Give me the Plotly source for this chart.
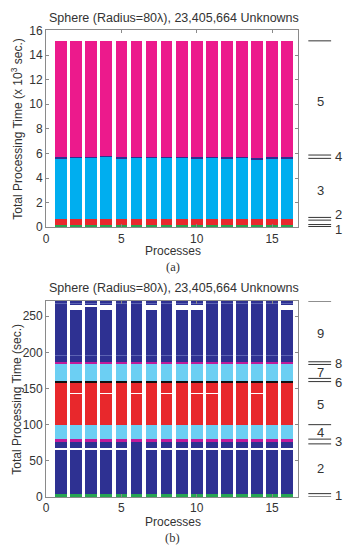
import plotly.graph_objects as go

processes = list(range(1, 17))

# ---------- (a) stage durations, x 10^3 sec ----------
a_stage1 = [0.2, 0.2, 0.2, 0.2, 0.2, 0.2, 0.2, 0.2, 0.2, 0.2, 0.2, 0.2, 0.2, 0.2, 0.2, 0.2]
a_stage2 = [0.45, 0.45, 0.45, 0.45, 0.45, 0.45, 0.45, 0.45, 0.45, 0.45, 0.45, 0.45, 0.45, 0.45, 0.45, 0.45]
a_stage3 = [4.9, 4.95, 4.95, 5.05, 4.9, 4.95, 4.95, 5.0, 4.95, 4.9, 4.95, 4.9, 4.95, 4.8, 4.9, 4.9]
a_stage4 = [0.15, 0.12, 0.12, 0.12, 0.15, 0.12, 0.1, 0.1, 0.1, 0.15, 0.12, 0.15, 0.12, 0.2, 0.15, 0.15]
a_stage5 = [9.4, 9.38, 9.38, 9.28, 9.4, 9.38, 9.4, 9.35, 9.4, 9.4, 9.38, 9.4, 9.38, 9.45, 9.4, 9.4]

# ---------- (b) stage durations, sec ----------
b_s1 = [4, 4, 4, 4, 4, 4, 4, 4, 4, 4, 4, 4, 4, 4, 4, 4]
b_s2a = [62, 62, 62, 62, 62, 62, 62, 62, 62, 62, 62, 62, 62, 62, 62, 62]
b_s2gap = [1.5, 1.5, 1.5, 1.5, 1.5, 0, 1.5, 1.5, 1.5, 1.5, 1.5, 1.5, 1.5, 1.5, 1.5, 1.5]
b_s2b = [8, 8, 8, 8, 8, 9.5, 8, 8, 8, 8, 8, 8, 8, 8, 8, 8]
b_s3 = [4, 4, 4, 4, 4, 4, 4, 4, 4, 4, 4, 4, 4, 4, 4, 4]
b_s4 = [20, 20, 20, 20, 20, 20, 20, 20, 20, 20, 20, 20, 20, 20, 20, 20]
b_s5a = [57.5, 43, 57.5, 43, 57.5, 43, 57.5, 43, 57.5, 43, 43, 57.5, 57.5, 43, 57.5, 57.5]
b_s5gap = [0, 1.5, 0, 1.5, 0, 1.5, 0, 1.5, 0, 1.5, 1.5, 0, 0, 1.5, 0, 0]
b_s5b = [0, 13, 0, 13, 0, 13, 0, 13, 0, 13, 13, 0, 0, 13, 0, 0]
b_s6 = [3.5, 3.5, 3.5, 3.5, 3.5, 3.5, 3.5, 3.5, 3.5, 3.5, 3.5, 3.5, 3.5, 3.5, 3.5, 3.5]
b_s7 = [23, 23, 23, 23, 23, 23, 23, 23, 23, 23, 23, 23, 23, 23, 23, 23]
b_s8 = [3.5, 3.5, 3.5, 3.5, 3.5, 3.5, 3.5, 3.5, 3.5, 3.5, 3.5, 3.5, 3.5, 3.5, 3.5, 3.5]
b_s9a = [8, 8, 8, 8, 8, 8, 8, 8, 8, 8, 8, 8, 8, 8, 8, 8]
b_s9line = [1, 1, 1, 1, 1, 1, 1, 1, 1, 1, 1, 1, 1, 1, 1, 1]
b_s9b = [70, 62, 68, 62, 70, 70, 62, 70, 62, 62, 70, 70, 70, 70, 70, 62]
b_s9gap = [0, 8, 2, 8, 0, 0, 8, 0, 8, 8, 0, 0, 0, 0, 0, 8]
b_s10a = [1.5, 1.5, 1.5, 1.5, 1.5, 1.5, 1.5, 1.5, 1.5, 1.5, 1.5, 1.5, 1.5, 1.5, 1.5, 1.5]
b_s10line = [1, 1, 1, 1, 1, 1, 1, 1, 1, 1, 1, 1, 1, 1, 1, 1]
b_s10b = [1.5, 1.5, 1.5, 1.5, 1.5, 1.5, 1.5, 1.5, 1.5, 1.5, 1.5, 1.5, 1.5, 1.5, 1.5, 1.5]

# right-side stage marker levels and labels
top_lines = [15.15, 5.87, 5.6, 0.8, 0.58, 0.22, 0.06, -0.1]
top_labels = [("5", 10.2), ("4", 5.75), ("3", 3.0), ("2", 1.0), ("1", -0.2)]
bot_lines = [271, 187, 183.3, 164, 159.6, 100, 80, 73.4, 4.6, 0]
bot_labels = [("9", 226), ("8", 185), ("7", 172), ("6", 159),
              ("5", 128), ("4", 89), ("3", 77), ("2", 39), ("1", 2)]

GREEN = "#27a552"
RED = "#e8282c"
CYAN_A = "#00aeef"
CYAN_B = "#6ccff3"
NAVY = "#2e3192"
NAVY_L = "#5c63b3"
MAGENTA = "#ec1a8c"
MAGENTA_B = "#c21a9a"
BLACK = "#111111"
WHITE = "#ffffff"

FONT = "Liberation Sans, Arial, Helvetica, sans-serif"
TXT = "#333333"
BW = 0.78

fig = go.Figure()

top_series = [(a_stage1, GREEN), (a_stage2, RED), (a_stage3, CYAN_A),
              (a_stage4, NAVY), (a_stage5, MAGENTA)]
for vals, col in top_series:
    fig.add_trace(go.Bar(x=processes, y=vals, width=BW, marker=dict(color=col, line=dict(width=0)),
                         xaxis="x", yaxis="y", showlegend=False))

bot_series = [(b_s1, GREEN), (b_s2a, NAVY), (b_s2gap, WHITE), (b_s2b, NAVY), (b_s3, MAGENTA_B),
              (b_s4, CYAN_B), (b_s5a, RED), (b_s5gap, WHITE), (b_s5b, RED), (b_s6, BLACK),
              (b_s7, CYAN_B), (b_s8, MAGENTA_B), (b_s9a, NAVY), (b_s9line, NAVY_L), (b_s9b, NAVY),
              (b_s9gap, WHITE), (b_s10a, NAVY), (b_s10line, NAVY_L), (b_s10b, NAVY)]
for vals, col in bot_series:
    fig.add_trace(go.Bar(x=processes, y=vals, width=BW, marker=dict(color=col, line=dict(width=0)),
                         xaxis="x2", yaxis="y2", showlegend=False))

W, H = 345, 552
def px(xp):
    return xp / W
def py(yp):
    return 1 - yp / H

TOP_DOM = [py(226), py(24)]
TOP_RNG = [0, 16]
BOT_DOM = [py(502.7), py(301.7)]
BOT_RNG = [0, 271]

def to_paper(v, dom, rng):
    return dom[0] + (v - rng[0]) / (rng[1] - rng[0]) * (dom[1] - dom[0])

axis_common = dict(showline=True, linecolor="#8a8a8a", linewidth=1, mirror="ticks",
                   ticks="inside", ticklen=3, tickcolor="#8a8a8a", showgrid=False,
                   zeroline=False, tickfont=dict(family=FONT, size=12, color=TXT))

fig.update_layout(
    width=W, height=H, margin=dict(l=0, r=0, t=0, b=0),
    paper_bgcolor="white", plot_bgcolor="white", barmode="stack", showlegend=False,
    xaxis=dict(domain=[px(43.5), px(298)], range=[0, 16.75], tickvals=[0, 5, 10, 15],
               anchor="y", **axis_common),
    yaxis=dict(domain=TOP_DOM, range=TOP_RNG, tickvals=list(range(0, 17, 2)),
               anchor="x", **axis_common),
    xaxis2=dict(domain=[px(43.5), px(298)], range=[0, 16.75], tickvals=[0, 5, 10, 15],
                anchor="y2", **axis_common),
    yaxis2=dict(domain=BOT_DOM, range=BOT_RNG, tickvals=[0, 50, 100, 150, 200, 250],
                anchor="x2", **axis_common),
)

ann = []
def txt(x, y, s, size=12, family=FONT, angle=0):
    ann.append(dict(x=x, y=y, xref="paper", yref="paper", text=s, showarrow=False,
                    textangle=angle, xanchor="center", yanchor="middle",
                    font=dict(family=family, size=size, color=TXT)))

title = "Sphere (Radius=80λ), 23,405,664 Unknowns"
txt(px(172), py(11), title, size=12.5)
txt(px(172), py(288), title, size=12.5)
txt(px(14), py(125), "Total Processing Time (x 10<sup>3</sup> sec.)", angle=-90)
txt(px(14), py(402), "Total Processing Time (sec.)", angle=-90)
txt(px(171), py(250.5), "Processes")
txt(px(171), py(528), "Processes")
txt(px(171), py(267), "(a)", size=12.5, family="Liberation Serif, Times New Roman, serif")
txt(px(171), py(545), "(b)", size=12.5, family="Liberation Serif, Times New Roman, serif")

shapes = []
for v in top_lines:
    shapes.append(dict(type="line", xref="paper", yref="y", x0=px(308), x1=px(331), y0=v, y1=v,
                       line=dict(color="#333333", width=1)))
for v in bot_lines:
    shapes.append(dict(type="line", xref="paper", yref="y2", x0=px(308), x1=px(331), y0=v, y1=v,
                       line=dict(color="#333333", width=1)))

# labels alternate between the inner column (between lines) and outer column (beside lines)
INNER, OUTER = px(320), px(338)
for s, v in top_labels:
    xcol = OUTER if s in ("4", "2", "1") else INNER
    txt(xcol, to_paper(v, TOP_DOM, TOP_RNG), s, size=13)
for s, v in bot_labels:
    xcol = OUTER if s in ("8", "6", "3", "1") else INNER
    txt(xcol, to_paper(v, BOT_DOM, BOT_RNG), s, size=13)

fig.update_layout(annotations=ann, shapes=shapes)
fig.write_html("out.html")
